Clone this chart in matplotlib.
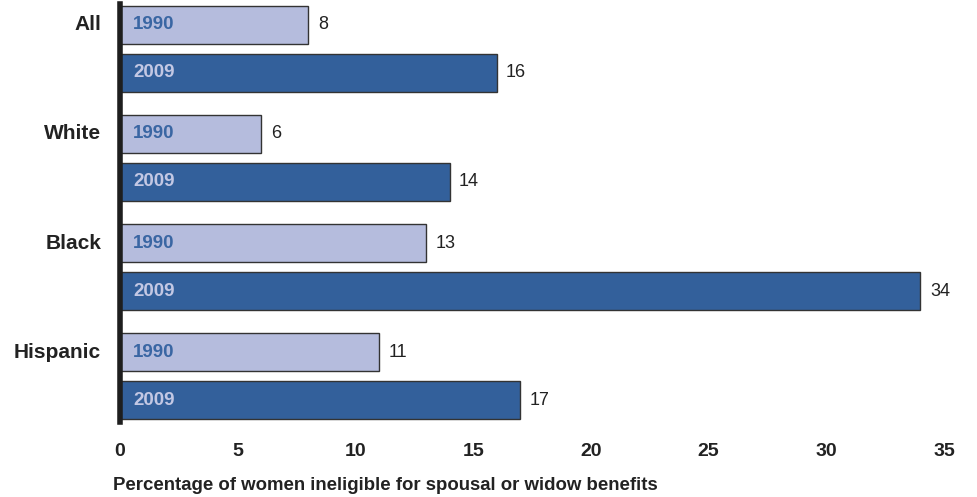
import matplotlib.pyplot as plt
import numpy as np

plt.rcParams['font.family'] = ['Liberation Sans', 'DejaVu Sans']

groups = ["All", "White", "Black", "Hispanic"]
years = ["1990", "2009"]
vals_1990 = [8, 6, 13, 11]
vals_2009 = [16, 14, 34, 17]

light = "#b5bcdd"
dark = "#33609b"

fig = plt.figure(figsize=(9.77, 4.97), dpi=100)
ax = fig.add_axes([120 / 977, 1 - 422 / 497, 824 / 977, 418 / 497])

pitch = 1.0
h = 0.345
off = 0.44
y1 = np.arange(len(groups)) * pitch
y2 = y1 + off

ax.barh(y1, vals_1990, height=h, color=light, edgecolor="#333333", linewidth=1)
ax.barh(y2, vals_2009, height=h, color=dark, edgecolor="#333333", linewidth=1)

for y, v in zip(y1, vals_1990):
    ax.text(0.55, y, years[0], va="center", ha="left", fontsize=13.5,
            fontweight="bold", color="#3a66a3")
    ax.text(v + 0.4, y, str(v), va="center", ha="left", fontsize=13, color="#222222")
for y, v in zip(y2, vals_2009):
    ax.text(0.55, y, years[1], va="center", ha="left", fontsize=13.5,
            fontweight="bold", color="#c3c8e4")
    ax.text(v + 0.4, y, str(v), va="center", ha="left", fontsize=13, color="#222222")

for y, g in zip(y1, groups):
    ax.text(-0.8, y, g, va="center", ha="right", fontsize=15,
            fontweight="bold", color="#222222")

ax.set_xlim(0, 35)
ax.set_ylim(y2[-1] + 0.2, y1[0] - 0.19)
ax.set_yticks([])
ax.set_xticks(range(0, 36, 5))
ax.tick_params(axis="x", length=0, pad=15, labelsize=14)
for lbl in ax.get_xticklabels():
    lbl.set_fontweight("bold")
    lbl.set_color("#222222")
for s in ["top", "right", "bottom"]:
    ax.spines[s].set_visible(False)
ax.spines["left"].set_linewidth(4)
ax.spines["left"].set_color("#1e1e1e")

fig.text(113 / 977, 1 - 486 / 497,
         "Percentage of women ineligible for spousal or widow benefits",
         fontsize=13.4, fontweight="bold", color="#222222", ha="left", va="center")

fig.savefig("out.png", dpi=100)
